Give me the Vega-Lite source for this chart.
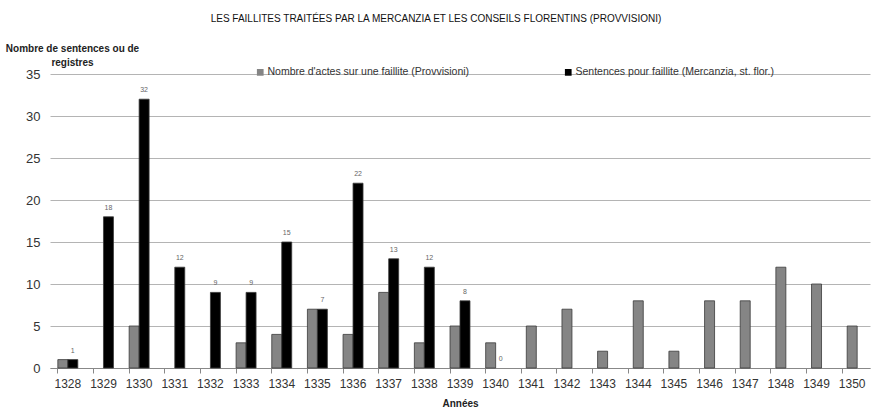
{
  "$schema": "https://vega.github.io/schema/vega-lite/v6.json",
  "width": 820,
  "height": 294,
  "autosize": {"type": "none"},
  "padding": {"left": 50, "top": 74, "right": 2, "bottom": 44},
  "background": "white",
  "config": {
    "font": "Liberation Sans",
    "view": {"stroke": null}
  },
  "title": {
    "text": "LES FAILLITES TRAITÉES PAR LA MERCANZIA ET LES CONSEILS FLORENTINS (PROVVISIONI)",
    "fontSize": 10,
    "fontWeight": "normal",
    "color": "#111",
    "anchor": "middle",
    "frame": "group",
    "offset": 19,
    "dx": -24
  },
  "data": {
    "values": [
      {"annee": "1328", "serie": "Nombre d'actes sur une faillite (Provvisioni)", "n": 1},
      {"annee": "1329", "serie": "Nombre d'actes sur une faillite (Provvisioni)", "n": 0},
      {"annee": "1330", "serie": "Nombre d'actes sur une faillite (Provvisioni)", "n": 5},
      {"annee": "1331", "serie": "Nombre d'actes sur une faillite (Provvisioni)", "n": 0},
      {"annee": "1332", "serie": "Nombre d'actes sur une faillite (Provvisioni)", "n": 0},
      {"annee": "1333", "serie": "Nombre d'actes sur une faillite (Provvisioni)", "n": 3},
      {"annee": "1334", "serie": "Nombre d'actes sur une faillite (Provvisioni)", "n": 4},
      {"annee": "1335", "serie": "Nombre d'actes sur une faillite (Provvisioni)", "n": 7},
      {"annee": "1336", "serie": "Nombre d'actes sur une faillite (Provvisioni)", "n": 4},
      {"annee": "1337", "serie": "Nombre d'actes sur une faillite (Provvisioni)", "n": 9},
      {"annee": "1338", "serie": "Nombre d'actes sur une faillite (Provvisioni)", "n": 3},
      {"annee": "1339", "serie": "Nombre d'actes sur une faillite (Provvisioni)", "n": 5},
      {"annee": "1340", "serie": "Nombre d'actes sur une faillite (Provvisioni)", "n": 3},
      {"annee": "1341", "serie": "Nombre d'actes sur une faillite (Provvisioni)", "n": 5},
      {"annee": "1342", "serie": "Nombre d'actes sur une faillite (Provvisioni)", "n": 7},
      {"annee": "1343", "serie": "Nombre d'actes sur une faillite (Provvisioni)", "n": 2},
      {"annee": "1344", "serie": "Nombre d'actes sur une faillite (Provvisioni)", "n": 8},
      {"annee": "1345", "serie": "Nombre d'actes sur une faillite (Provvisioni)", "n": 2},
      {"annee": "1346", "serie": "Nombre d'actes sur une faillite (Provvisioni)", "n": 8},
      {"annee": "1347", "serie": "Nombre d'actes sur une faillite (Provvisioni)", "n": 8},
      {"annee": "1348", "serie": "Nombre d'actes sur une faillite (Provvisioni)", "n": 12},
      {"annee": "1349", "serie": "Nombre d'actes sur une faillite (Provvisioni)", "n": 10},
      {"annee": "1350", "serie": "Nombre d'actes sur une faillite (Provvisioni)", "n": 5},
      {"annee": "1328", "serie": "Sentences pour faillite (Mercanzia, st. flor.)", "n": 1},
      {"annee": "1329", "serie": "Sentences pour faillite (Mercanzia, st. flor.)", "n": 18},
      {"annee": "1330", "serie": "Sentences pour faillite (Mercanzia, st. flor.)", "n": 32},
      {"annee": "1331", "serie": "Sentences pour faillite (Mercanzia, st. flor.)", "n": 12},
      {"annee": "1332", "serie": "Sentences pour faillite (Mercanzia, st. flor.)", "n": 9},
      {"annee": "1333", "serie": "Sentences pour faillite (Mercanzia, st. flor.)", "n": 9},
      {"annee": "1334", "serie": "Sentences pour faillite (Mercanzia, st. flor.)", "n": 15},
      {"annee": "1335", "serie": "Sentences pour faillite (Mercanzia, st. flor.)", "n": 7},
      {"annee": "1336", "serie": "Sentences pour faillite (Mercanzia, st. flor.)", "n": 22},
      {"annee": "1337", "serie": "Sentences pour faillite (Mercanzia, st. flor.)", "n": 13},
      {"annee": "1338", "serie": "Sentences pour faillite (Mercanzia, st. flor.)", "n": 12},
      {"annee": "1339", "serie": "Sentences pour faillite (Mercanzia, st. flor.)", "n": 8},
      {"annee": "1340", "serie": "Sentences pour faillite (Mercanzia, st. flor.)", "n": 0}
    ]
  },
  "encoding": {
    "x": {
      "field": "annee",
      "type": "ordinal",
      "scale": {"paddingInner": 0.44, "paddingOuter": 0.22},
      "axis": {
        "title": "Années",
        "titleFontSize": 10,
        "titleFontWeight": "bold",
        "titleColor": "#222",
        "titlePadding": 9,
        "labelAngle": 0,
        "labelFontSize": 12,
        "labelColor": "#333",
        "labelPadding": 5,
        "domainColor": "#888",
        "tickColor": "#888",
        "tickSize": 5,
        "bandPosition": 0,
        "grid": false
      }
    },
    "y": {
      "field": "n",
      "type": "quantitative",
      "scale": {"domain": [0, 35]},
      "axis": {
        "values": [0, 5, 10, 15, 20, 25, 30, 35],
        "title": ["Nombre de sentences ou de", "registres"],
        "titleAngle": 0,
        "titleAlign": "center",
        "titleBaseline": "alphabetic",
        "titleX": 22,
        "titleY": -23,
        "titleLineHeight": 14,
        "titleFontSize": 10,
        "titleFontWeight": "bold",
        "titleColor": "#222",
        "labelFontSize": 13,
        "labelColor": "#333",
        "labelPadding": 10,
        "domain": false,
        "ticks": false,
        "gridColor": "#b4b4b4",
        "gridWidth": 1
      }
    }
  },
  "layer": [
    {
      "transform": [{"filter": "toNumber(datum.annee) <= 1340"}],
      "mark": {"type": "bar", "stroke": "#3a3a3a", "strokeWidth": 0.8},
      "encoding": {
        "xOffset": {"field": "serie", "type": "nominal", "scale": {"paddingInner": 0, "paddingOuter": 0}},
        "color": {
          "field": "serie",
          "type": "nominal",
          "scale": {
            "domain": ["Nombre d'actes sur une faillite (Provvisioni)", "Sentences pour faillite (Mercanzia, st. flor.)"],
            "range": ["#858585", "#000000"]
          },
          "legend": {
            "title": null,
            "orient": "none",
            "direction": "horizontal",
            "legendX": 205,
            "legendY": -7,
            "symbolType": "square",
            "symbolSize": 45,
            "symbolStrokeWidth": 0,
            "labelFontSize": 10.5,
            "labelColor": "#333",
            "labelOffset": 2,
            "labelLimit": 400,
            "columnPadding": 93
          }
        },
        "opacity": {"condition": {"test": "datum.n == 0", "value": 0}, "value": 1}
      }
    },
    {
      "transform": [{"filter": "toNumber(datum.annee) > 1340"}],
      "mark": {"type": "bar", "size": 10, "color": "#858585", "stroke": "#3a3a3a", "strokeWidth": 0.8}
    },
    {
      "transform": [
        {"filter": "toNumber(datum.annee) <= 1340 && datum.serie == 'Sentences pour faillite (Mercanzia, st. flor.)'"}
      ],
      "mark": {"type": "text", "fontSize": 7, "color": "#666", "dy": -9, "baseline": "middle"},
      "encoding": {
        "xOffset": {"field": "serie", "type": "nominal", "scale": {"domain": ["Nombre d'actes sur une faillite (Provvisioni)", "Sentences pour faillite (Mercanzia, st. flor.)"], "paddingInner": 0, "paddingOuter": 0}},
        "text": {"field": "n", "type": "quantitative"}
      }
    }
  ]
}
